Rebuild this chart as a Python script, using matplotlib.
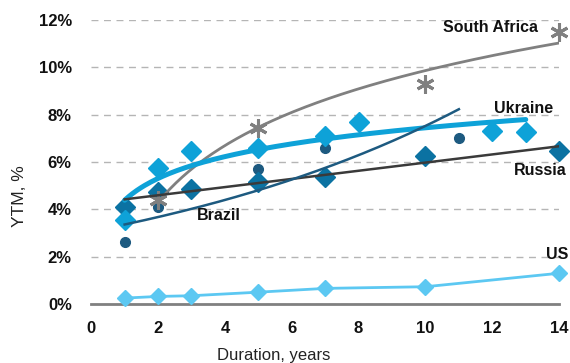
import numpy as np
import matplotlib
matplotlib.use("Agg")
import matplotlib.pyplot as plt

plt.rcParams['font.family'] = ['Liberation Sans', 'DejaVu Sans']

# Datos (YTM en %)
sa_x = [2, 5, 10, 14]
sa_y = [4.4, 7.45, 9.3, 11.5]

ukr_x = [1, 2, 3, 5, 7, 8, 12, 13]
ukr_y = [3.56, 5.76, 6.48, 6.57, 7.08, 7.67, 7.29, 7.25]

rus_x = [1, 2, 3, 5, 7, 10, 14]
rus_y = [4.1, 4.75, 4.87, 5.17, 5.38, 6.27, 6.45]

bra_x = [1, 2, 5, 7, 11]
bra_y = [2.6, 4.1, 5.7, 6.6, 7.0]

us_x = [1, 2, 3, 5, 7, 10, 14]
us_y = [0.25, 0.32, 0.35, 0.5, 0.66, 0.73, 1.3]

x_ticks = [0, 2, 4, 6, 8, 10, 12, 14]
y_ticks = [0, 2, 4, 6, 8, 10, 12]

# colores
c_sa = "#808080"
c_ukr = "#0ea2d8"
c_rus = "#0b72a2"
c_rus_line = "#3a3a3a"
c_bra = "#1d5a80"
c_us = "#5cc8f2"


def log_fit(x, y, x0, x1):
    b, a = np.polyfit(np.log(x), y, 1)
    xx = np.linspace(x0, x1, 200)
    return xx, a + b * np.log(xx)


def lin_fit(x, y, x0, x1):
    b, a = np.polyfit(x, y, 1)
    xx = np.linspace(x0, x1, 200)
    return xx, a + b * xx


def exp_fit(x, y, x0, x1):
    b, a = np.polyfit(x, np.log(y), 1)
    xx = np.linspace(x0, x1, 200)
    return xx, np.exp(a + b * xx)


fig = plt.figure(figsize=(5.7, 3.63), dpi=100)
ax = fig.add_axes([0.16, 0.1625, 0.821, 0.7825])

# puntos
ax.plot(us_x, us_y, color=c_us, lw=2, marker="D", ms=8.5, zorder=3, clip_on=False)
ax.plot(bra_x, bra_y, ls="none", marker="o", ms=7, color=c_bra, zorder=3, clip_on=False)
ax.plot(rus_x, rus_y, ls="none", marker="D", ms=10.5, color=c_rus, zorder=3, clip_on=False)
ax.plot(ukr_x, ukr_y, ls="none", marker="D", ms=10.5, color=c_ukr, zorder=3, clip_on=False)
ax.plot(sa_x, sa_y, ls="none", marker=(6, 2, 0), ms=13, mew=2.2, color=c_sa, zorder=3, clip_on=False)

# líneas de tendencia
xx, yy = log_fit(sa_x, sa_y, 2, 14)
ax.plot(xx, yy, color=c_sa, lw=2, zorder=4)
xx, yy = log_fit(ukr_x, ukr_y, 1, 13)
ax.plot(xx, yy, color=c_ukr, lw=3.6, zorder=4, solid_capstyle="round")
xx, yy = lin_fit(rus_x, rus_y, 1, 14)
ax.plot(xx, yy, color=c_rus_line, lw=1.8, zorder=4)
xx, yy = exp_fit(bra_x, bra_y, 1, 11)
ax.plot(xx, yy, color=c_bra, lw=1.8, zorder=4)

# etiquetas
lab = dict(fontsize=11.5, fontweight="bold", color="#111111", ha="center", va="center", zorder=6)
ax.text(11.96, 11.7, "South Africa", **lab)
ax.text(12.93, 8.26, "Ukraine", **lab)
ax.text(13.43, 5.64, "Russia", **lab)
ax.text(3.82, 3.73, "Brazil", **lab)
ax.text(13.93, 2.08, "US", **lab)

ax.set_xlim(0, 14)
ax.set_ylim(0, 12)
ax.set_xticks(x_ticks)
ax.set_yticks(y_ticks)
ax.set_yticklabels([f"{v}%" for v in y_ticks])
ax.tick_params(length=0, labelsize=12, colors="#111111")
for t in ax.get_xticklabels() + ax.get_yticklabels():
    t.set_fontweight("bold")
ax.tick_params(axis="x", pad=12)
ax.tick_params(axis="y", pad=14)

ax.grid(axis="y", color="#b5b5b5", lw=1, ls=(0, (5, 4)))
ax.set_axisbelow(True)
for s in ["top", "right", "left"]:
    ax.spines[s].set_visible(False)
ax.spines["bottom"].set_color("#808080")
ax.spines["bottom"].set_linewidth(2)

ax.set_xlabel("Duration, years", fontsize=12, color="#222222")
ax.xaxis.set_label_coords(0.39, -0.155)
ax.set_ylabel("YTM, %", fontsize=12.5, color="#222222")
ax.yaxis.set_label_coords(-0.138, 0.38)

fig.savefig("out.png", dpi=100)
